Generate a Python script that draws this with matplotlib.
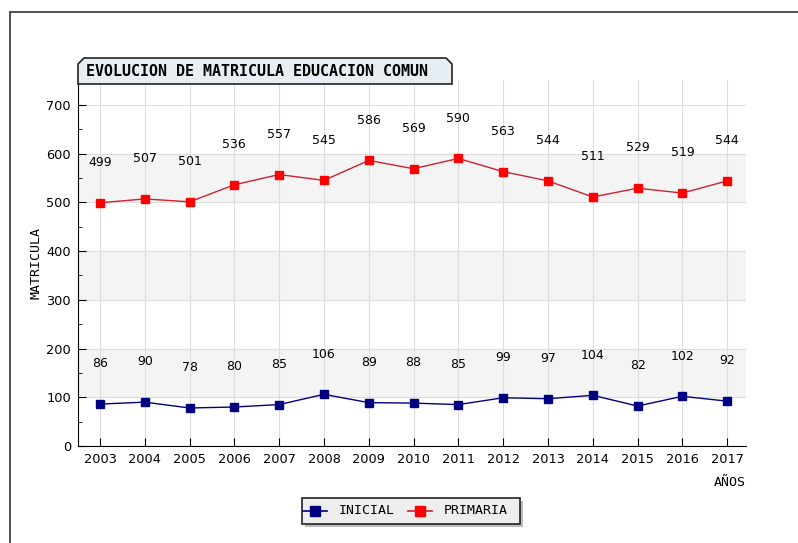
import matplotlib
matplotlib.use('Agg')
import matplotlib.pyplot as plt
from matplotlib.patches import Polygon, Rectangle
from matplotlib.ticker import MultipleLocator

years = [2003, 2004, 2005, 2006, 2007, 2008, 2009, 2010, 2011, 2012, 2013, 2014, 2015, 2016, 2017]
inicial = [86, 90, 78, 80, 85, 106, 89, 88, 85, 99, 97, 104, 82, 102, 92]
primaria = [499, 507, 501, 536, 557, 545, 586, 569, 590, 563, 544, 511, 529, 519, 544]

fig = plt.figure(figsize=(7.98, 5.43), dpi=100)
W, H = 798, 543


def box(x, y, w, h, **kw):
    # rectangle in pixel coords (top-left origin)
    return Rectangle((x / W, (H - y - h) / H), w / W, h / H, transform=fig.transFigure, **kw)


# outer frame
fig.patches.append(box(10, 12, 800, 560, fill=False, edgecolor='#333333', linewidth=1.2))

ax = fig.add_axes([78 / W, (H - 446) / H, (746 - 78) / W, (446 - 80) / H])
ax.set_xlim(2002.51, 2017.42)
ax.set_ylim(0, 751)

# alternating bands
for lo in (100, 300, 500):
    ax.axhspan(lo, lo + 100, color='#f4f4f4', zorder=0, linewidth=0)

ax.grid(True, color='#dddddd', linewidth=0.8, zorder=1)
ax.set_axisbelow(True)
for s in ('top', 'right'):
    ax.spines[s].set_visible(False)

ax.set_xticks(years)
ax.set_xticklabels([str(y) for y in years])
ax.set_yticks(range(0, 701, 100))
ax.yaxis.set_minor_locator(MultipleLocator(50))
ax.tick_params(axis='both', direction='in', length=6, labelsize=9.3, pad=5)
ax.tick_params(axis='y', which='minor', direction='in', length=3)

ax.plot(years, inicial, color='#000080', marker='s', markersize=6, linewidth=1, zorder=3)
ax.plot(years, primaria, color='#cc2233', marker='s', markersize=6, markerfacecolor='#ff0000',
        markeredgecolor='#ff0000', linewidth=1, zorder=3)

for series in (inicial, primaria):
    for x, v in zip(years, series):
        ax.annotate(str(v), (x, v), xytext=(0, 29), textcoords='offset points',
                    ha='center', va='center', fontsize=9)

ax.set_ylabel('MATRICULA', family='DejaVu Sans Mono', fontsize=9.5, labelpad=3)
fig.text(746 / W, (H - 482) / H, 'AÑOS', ha='right', va='center', family='DejaVu Sans Mono', fontsize=9.5)

# title box with chamfered top corners
x0, x1, y0, y1, c = 78, 452, 84, 58, 6
pts = [(x0, y0), (x0, y1 + c), (x0 + c, y1), (x1 - c, y1), (x1, y1 + c), (x1, y0)]
fig.patches.append(Polygon([(px / W, (H - py) / H) for px, py in pts], closed=True, transform=fig.transFigure,
                           facecolor='#e6edf3', edgecolor='#222222', linewidth=1.2))
fig.text(86 / W, (H - 72) / H, 'EVOLUCION DE MATRICULA EDUCACION COMUN', ha='left', va='center',
         family='DejaVu Sans Mono', fontweight='bold', fontsize=10.8)

# legend box with shadow, drawn by hand
fig.patches.append(box(305, 501, 218, 26, facecolor='#bbbbbb', edgecolor='none'))
fig.patches.append(box(302, 498, 218, 26, facecolor='#eeeeee', edgecolor='#222222', linewidth=1.2))
items = [('INICIAL', '#000080', '#000080', 303), ('PRIMARIA', '#cc2233', '#ff0000', 408)]
for label, lc, mc, lx in items:
    yy = (H - 511) / H
    fig.lines.append(plt.Line2D([lx / W, (lx + 24) / W], [yy, yy], transform=fig.transFigure,
                                color=lc, linewidth=1.2))
    fig.lines.append(plt.Line2D([(lx + 12) / W], [yy], transform=fig.transFigure, marker='s',
                                markersize=7, color=mc, linestyle='none'))
    fig.text((lx + 36) / W, yy, label, ha='left', va='center', family='DejaVu Sans Mono', fontsize=9.5)

fig.savefig('out.png', dpi=100)
